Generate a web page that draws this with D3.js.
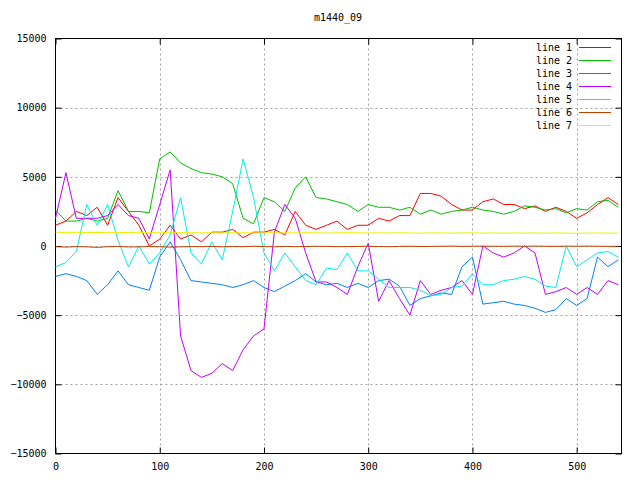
<!DOCTYPE html>
<html><head><meta charset="utf-8">
<script src="https://cdn.jsdelivr.net/npm/d3@7"></script>
<style>body{margin:0;background:#fff}</style></head>
<body><svg id="c" width="640" height="480"></svg>
<script>
const xs = d3.range(0, 541, 10);
const line1 = [1500,1800,2500,2200,2800,1500,3500,2500,1500,0,500,1500,500,800,300,1000,1000,1200,600,1000,1000,1200,800,2500,1500,1200,1500,1800,1200,1500,1500,2000,1800,2200,2200,3800,3800,3600,3000,2600,2600,3200,3400,3000,3000,2700,2900,2500,2800,2500,2000,2400,3000,3500,3000];
const line2 = [2600,1800,1800,2000,1800,2000,4000,2500,2500,2400,6300,6800,6000,5600,5300,5200,5000,4500,2000,1600,3500,3200,2500,4200,5000,3500,3400,3200,3000,2500,3000,2800,2800,2600,2800,2300,2600,2300,2500,2600,2800,2600,2500,2300,2500,2900,2800,2600,2700,2400,2700,2600,3200,3300,2800];
const line3 = [-2200,-2000,-2200,-2500,-3500,-2800,-1800,-2800,-3000,-3200,-800,300,-1000,-2500,-2600,-2700,-2800,-3000,-2800,-2500,-3000,-3300,-2900,-2500,-2000,-2600,-2800,-2700,-3000,-2700,-3000,-2500,-2400,-2900,-4300,-3800,-3600,-3400,-3500,-1500,-800,-4200,-4100,-4000,-4200,-4300,-4500,-4800,-4600,-3800,-4300,-3800,-800,-1500,-1000];
const line4 = [2000,5300,2000,2000,2000,2200,3000,2200,2000,500,3000,5500,-6500,-9000,-9500,-9200,-8500,-9000,-7500,-6500,-6000,1000,3000,2000,-500,-2600,-2600,-3000,-3500,-1500,200,-4000,-2500,-3800,-5000,-2500,-3500,-3200,-3000,-2500,-3500,0,-500,-800,-500,0,-500,-3500,-3300,-3000,-3500,-3000,-3500,-2500,-2800];
const line5 = [-1500,-1200,-400,3000,1500,3000,400,-1500,0,-1300,-500,800,3500,-500,-1300,300,-1000,2500,6300,3500,-500,-1800,-500,-1500,-2500,-2800,-1600,-1700,-500,-1800,-1800,-2400,-3000,-3000,-3000,-3200,-3600,-3500,-3000,-2900,-2000,-2800,-2800,-2500,-2400,-2200,-2400,-2900,-3000,0,-1500,-1000,-500,-400,-800];
const line6 = [-50,-80,-40,-60,-100,-50,-30,-70,-60,-40,-50,-80,-60,-40,-50,-30,-60,-40,-50,-20,-40,-60,-30,-50,-40,-20,-30,-50,-40,-30,-20,-40,-50,-30,-20,-40,-30,-20,-10,-30,-20,-10,-20,-30,-10,-20,-10,-20,-30,-10,-20,-10,-20,-30,-20];
const line7 = [1000,980,990,970,980,960,970,980,960,970,950,960,970,960,950,960,950,960,950,940,950,960,940,950,960,950,940,950,960,950,940,950,940,950,940,930,950,940,930,940,950,930,940,930,940,930,940,930,940,930,920,930,940,930,930];
const series = [["line 1",line1,"#ff0000"],["line 2",line2,"#00c000"],["line 3",line3,"#0080ff"],["line 4",line4,"#c000ff"],["line 5",line5,"#00eeee"],["line 6",line6,"#c04000"],["line 7",line7,"#eeee00"]];
const xTicks=[0,100,200,300,400,500], yTicks=[-15000,-10000,-5000,0,5000,10000,15000];

const svg=d3.select("#c"), L=55.5,R=621.5,T=38.5,B=453.5;
const x=d3.scaleLinear().domain([0,543]).range([L,R]);
const y=d3.scaleLinear().domain([-15000,15000]).range([B,T]);
const f="10px 'DejaVu Sans Mono', monospace";
const g=svg.append("g");
xTicks.forEach(t=>{ if(t>0) g.append("line").attr("x1",Math.round(x(t))+0.5).attr("x2",Math.round(x(t))+0.5).attr("y1",T).attr("y2",B).attr("stroke","#a0a0a0").attr("stroke-dasharray","2,3");});
yTicks.forEach(t=>{ if(t>-15000&&t<15000) g.append("line").attr("x1",L).attr("x2",R).attr("y1",Math.round(y(t))+0.5).attr("y2",Math.round(y(t))+0.5).attr("stroke","#a0a0a0").attr("stroke-dasharray","2,3");});
const fmt=d3.format("d");
svg.append("g").attr("transform",`translate(0,${B})`).call(d3.axisBottom(x).tickValues(xTicks).tickSize(-6).tickPadding(9).tickFormat(fmt));
svg.append("g").attr("transform",`translate(${L},0)`).call(d3.axisLeft(y).tickValues(yTicks).tickSize(-6).tickPadding(9).tickFormat(fmt));
svg.append("g").attr("transform",`translate(0,${T})`).call(d3.axisTop(x).tickValues(xTicks).tickSize(-6).tickFormat(""));
svg.append("g").attr("transform",`translate(${R},0)`).call(d3.axisRight(y).tickValues(yTicks).tickSize(-6).tickFormat(""));
svg.selectAll(".domain").remove();
svg.selectAll(".tick line").attr("stroke","#000");
svg.selectAll(".tick text").style("font",f).attr("fill","#000");
svg.append("rect").attr("x",L).attr("y",T).attr("width",R-L).attr("height",B-T).attr("fill","none").attr("stroke","#000");
const ln=d3.line().x((d,i)=>x(xs[i])).y(d=>y(d));
series.forEach(([n,v,c],i)=>{
  svg.append("path").attr("d",ln(v)).attr("fill","none").attr("stroke",c).attr("stroke-width",1);
});
series.forEach(([n,v,c],i)=>{
  const yy=47.5+i*13;
  svg.append("text").attr("x",572).attr("y",yy+3.5).attr("text-anchor","end").style("font",f).text(n);
  svg.append("line").attr("x1",579).attr("x2",611).attr("y1",yy).attr("y2",yy).attr("stroke",c).attr("shape-rendering","crispEdges");
});
svg.append("text").attr("x",338).attr("y",21).attr("text-anchor","middle").style("font",f).text("m1440_09");
</script></body></html>
